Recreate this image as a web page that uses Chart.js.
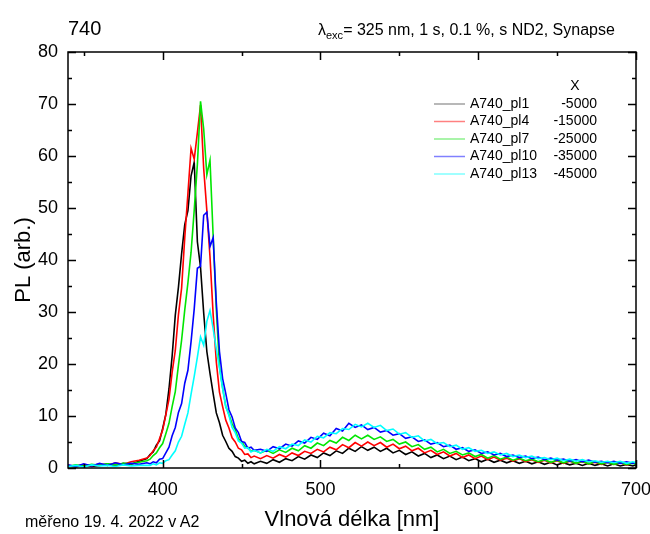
<!DOCTYPE html>
<html>
<head>
<meta charset="utf-8">
<script src="https://cdn.jsdelivr.net/npm/chart.js@4/dist/chart.umd.min.js"></script>
<style>
  html, body { margin: 0; padding: 0; background: #fff; }
  #wrap { position: relative; width: 650px; height: 534px; font-family: "Liberation Sans", Arial, sans-serif; color: #000; }
  #plot { position: absolute; left: 0; top: 0; }
  .lbl { position: absolute; white-space: nowrap; line-height: 1; }
  #sample { left: 68px; top: 18px; font-size: 20px; }
  #cond { left: 318px; top: 22px; font-size: 16px; }
  #cond sub { font-size: 11px; vertical-align: -4px; line-height: 0; }
  #date { left: 25px; top: 514px; font-size: 16px; }
</style>
</head>
<body>
<div id="wrap">
  <canvas id="plot" width="650" height="534"></canvas>
  <div class="lbl" id="sample">740</div>
  <div class="lbl" id="cond">λ<sub>exc</sub>= 325 nm, 1 s, 0.1 %, s ND2, Synapse</div>
  <div class="lbl" id="date">měřeno 19. 4. 2022 v A2</div>
</div>
<script>
// ─── Data ──────────────────────────────────────────────────────
const wavelengths = [
  340, 345, 350, 355, 360, 365, 370, 375, 380, 385, 390,
  392, 394, 396, 398, 400, 402, 404, 406, 408, 410, 412, 414, 416, 418, 420,
  422, 424, 426, 428, 430, 432, 434, 436, 438, 440, 442, 444, 446, 448, 450,
  452, 454, 456, 458,
  462, 466, 470, 474, 478, 482, 486, 490, 494, 498, 502, 506, 510, 514, 518,
  522, 526, 530, 534, 538, 542, 546, 550, 554, 558, 562, 566, 570, 574, 578,
  582, 586, 590, 594, 598, 602, 606, 610, 614, 618, 622, 626, 630, 634, 638,
  642, 646, 650, 654, 658, 662, 666, 670, 674, 678, 682, 686, 690, 694, 698,
  700
];

const pl1 = [
  0.4, 0.2, 0.6, 0.3, 0.5, 0.8, 0.4, 0.9, 0.7, 1.3, 1.8,
  2.6, 3.1, 4.4, 5.2, 7.6, 10.3, 15.2, 21.5, 29.4, 34.8, 41.2, 46.8, 49.5, 56.2, 58.8,
  43.5, 38.6, 29.8, 22.4, 18.2, 14.3, 10.6, 8.7, 6.3, 5.1, 3.8, 3.2, 2.2, 1.9, 1.3,
  1.5, 0.9, 1.2, 0.8,
  1.3, 0.9, 1.6, 1.1, 1.8, 1.4, 2.2, 1.7, 2.5, 2.0, 2.9, 2.4, 3.3, 2.8, 3.8,
  3.2, 4.1, 3.4, 4.0, 3.2, 3.8, 2.9, 3.4, 2.6, 3.1, 2.3, 2.8, 2.0, 2.5, 1.8,
  2.3, 1.6, 2.1, 1.4, 1.8, 1.2, 1.7, 1.1, 1.5, 1.0, 1.4, 0.9, 1.3, 0.8, 1.2,
  0.7, 1.1, 0.6, 1.0, 0.6, 0.9, 0.5, 0.9, 0.5, 0.8, 0.4, 0.8, 0.4, 0.7, 0.4,
  0.6
];

const pl4 = [
  0.5, 0.3, 0.7, 0.4, 0.8, 0.5, 1.0, 0.7, 1.2, 1.5, 1.9,
  2.4, 3.3, 4.0, 5.6, 7.3, 10.2, 13.2, 18.4, 22.6, 29.5, 34.6, 44.3, 52.8, 61.5, 59.4,
  64.5, 69.8, 57.6, 49.5, 40.6, 29.5, 20.4, 14.6, 11.8, 9.2, 7.7, 5.8, 5.0, 3.8, 3.5,
  2.6, 2.7, 2.0, 2.3,
  1.8, 2.4, 1.9, 2.6, 2.1, 2.9, 2.4, 3.2, 2.8, 3.6, 3.1, 4.0, 3.5, 4.5, 3.9,
  4.9, 4.2, 5.0, 4.3, 4.9, 4.0, 4.6, 3.7, 4.2, 3.3, 3.8, 2.9, 3.4, 2.6, 3.1,
  2.3, 2.8, 2.0, 2.5, 1.8, 2.3, 1.6, 2.1, 1.5, 1.9, 1.3, 1.8, 1.2, 1.6, 1.1,
  1.5, 1.0, 1.4, 0.9, 1.3, 0.9, 1.2, 0.8, 1.1, 0.7, 1.1, 0.7, 1.0, 0.6, 1.0,
  0.8
];

const pl7 = [
  0.3, 0.6, 0.4, 0.7, 0.5, 0.8, 0.6, 0.9, 0.8, 1.1, 1.4,
  1.7, 2.4, 2.9, 3.9, 4.7, 6.6, 8.6, 11.8, 14.7, 19.8, 24.6, 30.4, 35.6, 41.5, 49.6,
  58.4, 70.5, 65.2, 56.4, 59.2, 44.6, 30.5, 19.6, 15.4, 11.8, 10.3, 8.5, 7.4, 5.6, 5.2,
  4.1, 4.0, 3.2, 3.4,
  2.9, 3.4, 2.8, 3.5, 3.0, 3.8, 3.3, 4.3, 3.8, 4.8, 4.3, 5.3, 4.8, 5.9, 5.3,
  6.3, 5.6, 6.3, 5.5, 6.0, 5.1, 5.5, 4.6, 5.0, 4.1, 4.5, 3.6, 4.0, 3.1, 3.6,
  2.8, 3.2, 2.5, 2.9, 2.2, 2.6, 1.9, 2.4, 1.7, 2.1, 1.5, 1.9, 1.4, 1.7, 1.2,
  1.6, 1.1, 1.5, 1.0, 1.4, 0.9, 1.3, 0.8, 1.2, 0.8, 1.1, 0.7, 1.0, 0.7, 0.9,
  0.7
];

const pl10 = [
  0.6, 0.3, 0.8, 0.4, 0.9, 0.5, 1.0, 0.6, 0.9, 0.7, 1.0,
  0.8, 1.2, 1.0, 1.7, 1.8, 2.9, 4.0, 6.2, 7.8, 10.7, 12.4, 16.3, 18.8, 24.3, 30.6,
  38.4, 38.8, 48.6, 49.2, 42.6, 44.3, 31.8, 22.4, 17.2, 14.3, 11.2, 9.8, 7.7, 6.8, 5.1,
  4.9, 3.8, 4.0, 3.4,
  3.6, 3.2, 4.1, 3.7, 4.6, 4.2, 5.2, 4.8, 5.9, 5.5, 6.7, 6.2, 7.6, 7.1, 8.6,
  7.8, 8.3, 7.4, 7.8, 6.9, 7.2, 6.3, 6.6, 5.7, 6.0, 5.1, 5.4, 4.6, 4.9, 4.1,
  4.4, 3.6, 3.9, 3.2, 3.5, 2.8, 3.1, 2.5, 2.8, 2.2, 2.5, 2.0, 2.3, 1.8, 2.1,
  1.6, 1.9, 1.5, 1.7, 1.3, 1.6, 1.2, 1.5, 1.1, 1.3, 1.0, 1.3, 0.9, 1.2, 0.9,
  1.1
];

const pl13 = [
  0.3, 0.5, 0.2, 0.6, 0.4, 0.5, 0.3, 0.6, 0.4, 0.5, 0.5,
  0.5, 0.8, 0.6, 1.0, 0.9, 1.4, 1.6, 2.5, 3.3, 5.0, 6.1, 8.4, 10.6, 14.2, 17.6,
  21.3, 25.2, 23.6, 28.2, 30.3, 26.8, 22.9, 19.2, 15.3, 11.8, 10.1, 7.8, 6.8, 5.2, 4.8,
  3.8, 3.9, 3.1, 3.4,
  2.9, 3.6, 3.2, 4.1, 3.7, 4.6, 4.3, 5.4, 5.0, 6.1, 5.8, 6.8, 6.6, 7.6, 7.4,
  8.4, 7.9, 8.6, 7.8, 8.2, 7.2, 7.5, 6.5, 6.8, 5.9, 6.2, 5.2, 5.5, 4.7, 4.9,
  4.1, 4.4, 3.6, 3.9, 3.2, 3.4, 2.8, 3.1, 2.5, 2.8, 2.2, 2.5, 2.0, 2.3, 1.8,
  2.0, 1.6, 1.9, 1.4, 1.7, 1.3, 1.6, 1.2, 1.4, 1.1, 1.3, 1.0, 1.3, 0.9, 1.2,
  1.0
];

const seriesNames  = ['A740_pl1', 'A740_pl4', 'A740_pl7', 'A740_pl10', 'A740_pl13'];
const seriesX      = ['-5000', '-15000', '-25000', '-35000', '-45000'];
const seriesValues = [pl1, pl4, pl7, pl10, pl13];
const lineColors   = ['#000000', '#ff0000', '#00e600', '#0000ff', '#00ffff'];
const legendColors = ['#a0a0a0', '#ff8080', '#8cf08c', '#8080ff', '#80ffff'];

const xMajorTicks = [400, 500, 600, 700];
const xMinorTicks = [350, 400, 450, 500, 550, 600, 650, 700];
const yMajorTicks = [0, 10, 20, 30, 40, 50, 60, 70, 80];
const yMinorTicks = [0, 5, 10, 15, 20, 25, 30, 35, 40, 45, 50, 55, 60, 65, 70, 75, 80];

const FONT = "'Liberation Sans', Arial, sans-serif";

// ─── Frame with inward ticks on all four sides ─────────────────
const framePlugin = {
    id: 'frame',
    afterDatasetsDraw(chart) {
        const { ctx, chartArea: a, scales: { x, y } } = chart;
        ctx.save();
        ctx.strokeStyle = '#000';
        ctx.lineWidth = 1.5;
        ctx.strokeRect(a.left, a.top, a.right - a.left, a.bottom - a.top);
        ctx.beginPath();
        xMinorTicks.forEach(v => {
            const px  = Math.round(x.getPixelForValue(v)) + 0.5;
            const len = xMajorTicks.includes(v) ? 8 : 4;
            ctx.moveTo(px, a.bottom); ctx.lineTo(px, a.bottom - len);
            ctx.moveTo(px, a.top);    ctx.lineTo(px, a.top + len);
        });
        yMinorTicks.forEach(v => {
            const py  = Math.round(y.getPixelForValue(v)) + 0.5;
            const len = yMajorTicks.includes(v) ? 8 : 4;
            ctx.moveTo(a.left, py);  ctx.lineTo(a.left + len, py);
            ctx.moveTo(a.right, py); ctx.lineTo(a.right - len, py);
        });
        ctx.stroke();
        ctx.restore();
    }
};

// ─── Legend box with the X column ──────────────────────────────
const legendPlugin = {
    id: 'xLegend',
    afterDatasetsDraw(chart) {
        const { ctx } = chart;
        const lineX0 = 434, lineX1 = 465, textX = 470, valX = 597, row0 = 104, rowH = 17.5;
        ctx.save();
        ctx.font = `14px ${FONT}`;
        ctx.fillStyle = '#000';
        ctx.textBaseline = 'middle';
        ctx.textAlign = 'center';
        ctx.fillText('X', 575, 86);
        seriesNames.forEach((name, i) => {
            const yy = row0 + i * rowH;
            ctx.strokeStyle = legendColors[i];
            ctx.lineWidth = 1.5;
            ctx.beginPath();
            ctx.moveTo(lineX0, yy); ctx.lineTo(lineX1, yy);
            ctx.stroke();
            ctx.textAlign = 'left';
            ctx.fillText(name, textX, yy);
            ctx.textAlign = 'right';
            ctx.fillText(seriesX[i], valX, yy);
        });
        ctx.restore();
    }
};

const datasets = seriesValues.map((vals, i) => {
    if (vals.length !== wavelengths.length) console.warn(seriesNames[i], vals.length, wavelengths.length);
    return {
        label: seriesNames[i],
        data: wavelengths.map((w, k) => ({ x: w, y: vals[k] })),
        borderColor: lineColors[i],
        backgroundColor: lineColors[i],
        borderWidth: 1.6,
        pointRadius: 0,
        tension: 0,
        fill: false,
        order: seriesNames.length - i
    };
});

new Chart(document.getElementById('plot').getContext('2d'), {
    type: 'line',
    data: { datasets },
    options: {
        responsive: false,
        animation: false,
        devicePixelRatio: 1,
        layout: { padding: { top: 52, right: 14, left: 0, bottom: 0 } },
        plugins: { legend: { display: false }, tooltip: { enabled: false } },
        scales: {
            x: {
                type: 'linear',
                min: 340, max: 700,
                afterFit: s => { s.height = 66; s.paddingLeft = 0; s.paddingRight = 0; },
                afterBuildTicks: s => { s.ticks = xMajorTicks.map(v => ({ value: v })); },
                grid: { display: false, drawTicks: false },
                border: { display: false },
                ticks: { color: '#000', font: { family: FONT, size: 18 }, padding: 11, maxRotation: 0 },
                title: { display: true, text: 'Vlnová délka [nm]', color: '#000', font: { family: FONT, size: 22 }, padding: { bottom: 1 } }
            },
            y: {
                type: 'linear',
                min: 0, max: 80,
                afterFit: s => { s.width = 68; s.paddingTop = 0; s.paddingBottom = 0; },
                afterBuildTicks: s => { s.ticks = yMajorTicks.map(v => ({ value: v })); },
                grid: { display: false, drawTicks: false },
                border: { display: false },
                ticks: { color: '#000', font: { family: FONT, size: 18 }, padding: 10 },
                title: { display: true, text: 'PL (arb.)', color: '#000', font: { family: FONT, size: 22 }, padding: { top: 11 } }
            }
        }
    },
    plugins: [framePlugin, legendPlugin]
});
</script>
</body>
</html>
